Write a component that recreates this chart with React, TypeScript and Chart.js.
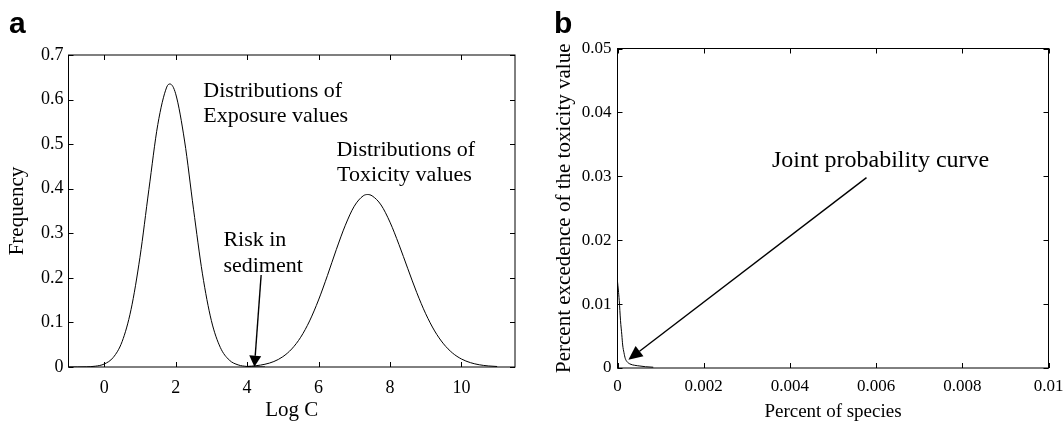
import React, { useEffect, useRef } from "react";
import { Chart, registerables } from "chart.js";

Chart.register(...registerables);

// ---------- Data (panel a) ----------
const exposureLogC = [-1, -0.75, -0.5, -0.25, 0, 0.25, 0.5, 0.75, 1.0, 1.25, 1.5, 1.75, 1.84, 2.0, 2.25, 2.5, 2.75, 3.0, 3.25, 3.5, 3.75, 4.0, 4.25, 4.5];
const exposureFreq = [0, 0.0001, 0.0004, 0.0018, 0.0067, 0.0212, 0.0568, 0.1286, 0.246, 0.398, 0.544, 0.628, 0.635, 0.613, 0.507, 0.354, 0.209, 0.104, 0.0439, 0.0156, 0.0047, 0.0012, 0.0003, 0.0001];

const toxicityLogC = [4.0, 4.25, 4.5, 4.75, 5.0, 5.25, 5.5, 5.75, 6.0, 6.25, 6.5, 6.75, 7.0, 7.25, 7.375, 7.5, 7.75, 8.0, 8.25, 8.5, 8.75, 9.0, 9.25, 9.5, 9.75, 10.0, 10.25, 10.5, 10.75, 11.0];
const toxicityFreq = [0.0013, 0.0029, 0.0062, 0.0123, 0.0231, 0.0405, 0.0667, 0.1034, 0.1504, 0.2055, 0.264, 0.318, 0.3607, 0.384, 0.387, 0.384, 0.3635, 0.325, 0.275, 0.2204, 0.1668, 0.1195, 0.0809, 0.0519, 0.0314, 0.018, 0.0098, 0.005, 0.0024, 0.0011];

const xTicksA = [0, 2, 4, 6, 8, 10];
const yTicksA = [0, 0.1, 0.2, 0.3, 0.4, 0.5, 0.6, 0.7];

// ---------- Data (panel b) ----------
const speciesPct = [0, 0.00002, 0.00004, 0.00007, 0.0001, 0.00012, 0.00015, 0.00018, 0.00022, 0.00029, 0.0004, 0.00052, 0.00065, 0.00083];
const exceedancePct = [0.0135, 0.0122, 0.0106, 0.0074, 0.0052, 0.0036, 0.0024, 0.0015, 0.001, 0.00063, 0.00042, 0.00031, 0.0002, 0.00012];

const xTicksB = [0, 0.002, 0.004, 0.006, 0.008, 0.01];
const yTicksB = [0, 0.01, 0.02, 0.03, 0.04, 0.05];

const SERIF = '"Liberation Serif", "Times New Roman", serif';
const SANS = '"Liberation Sans", Arial, sans-serif';

const decorPlugin = {
  id: "decor",
  afterDraw(chart: any, _args: any, opts: any) {
    const { ctx, chartArea: a, scales } = chart;
    const xs = scales.x;
    const ys = scales.y;
    ctx.save();
    ctx.strokeStyle = "#000";
    ctx.fillStyle = "#000";
    ctx.lineWidth = 1;
    // box
    ctx.strokeRect(a.left, a.top, a.right - a.left, a.bottom - a.top);
    // inward ticks on all four sides
    const L = opts.tickLen;
    ctx.beginPath();
    xs.ticks.forEach((t: any) => {
      const px = Math.round(xs.getPixelForValue(t.value)) + 0.5;
      ctx.moveTo(px, a.bottom);
      ctx.lineTo(px, a.bottom - L);
      ctx.moveTo(px, a.top);
      ctx.lineTo(px, a.top + L);
    });
    ys.ticks.forEach((t: any) => {
      const py = Math.round(ys.getPixelForValue(t.value)) + 0.5;
      ctx.moveTo(a.left, py);
      ctx.lineTo(a.left + L, py);
      ctx.moveTo(a.right, py);
      ctx.lineTo(a.right - L, py);
    });
    ctx.stroke();
    // text annotations
    ctx.textBaseline = "alphabetic";
    ctx.textAlign = "left";
    (opts.labels || []).forEach((l: any) => {
      ctx.font = `${l.size}px ${SERIF}`;
      ctx.fillText(l.text, xs.getPixelForValue(l.x), ys.getPixelForValue(l.y));
    });
    // arrows
    (opts.arrows || []).forEach((ar: any) => {
      const x0 = xs.getPixelForValue(ar.x0);
      const y0 = ys.getPixelForValue(ar.y0);
      const x1 = xs.getPixelForValue(ar.x1);
      const y1 = ys.getPixelForValue(ar.y1);
      const ang = Math.atan2(y1 - y0, x1 - x0);
      const hl = ar.headLen;
      const hw = ar.headHalf;
      const bx = x1 - hl * Math.cos(ang);
      const by = y1 - hl * Math.sin(ang);
      ctx.lineWidth = 1.4;
      ctx.beginPath();
      ctx.moveTo(x0, y0);
      ctx.lineTo(bx, by);
      ctx.stroke();
      ctx.beginPath();
      ctx.moveTo(x1, y1);
      ctx.lineTo(bx + hw * Math.sin(ang), by - hw * Math.cos(ang));
      ctx.lineTo(bx - hw * Math.sin(ang), by + hw * Math.cos(ang));
      ctx.closePath();
      ctx.fill();
    });
    // panel letter
    ctx.font = `bold 30px ${SANS}`;
    ctx.fillText(opts.letter, opts.letterX, opts.letterY);
    ctx.restore();
  },
};

function makeScale(cfg: any) {
  return {
    type: "linear",
    min: cfg.min,
    max: cfg.max,
    afterBuildTicks: (s: any) => {
      s.ticks = cfg.ticks.map((v: number) => ({ value: v }));
    },
    ticks: {
      font: { size: cfg.tickSize, family: SERIF },
      color: "#000",
      padding: cfg.tickPad,
      maxRotation: 0,
      autoSkip: false,
      callback: (v: any) => String(v),
    },
    grid: { display: false, drawTicks: false },
    border: { display: false },
    title: {
      display: true,
      text: cfg.title,
      color: "#000",
      font: { size: cfg.titleSize, family: SERIF, lineHeight: 1.2 },
      padding: cfg.titlePad,
    },
    afterFit: (s: any) => {
      if (cfg.width !== undefined) s.width = cfg.width;
      if (cfg.height !== undefined) s.height = cfg.height;
      s.paddingLeft = 0;
      s.paddingRight = 0;
      s.paddingTop = 0;
      s.paddingBottom = 0;
    },
  };
}

function ChartA() {
  const ref = useRef<HTMLCanvasElement>(null);
  useEffect(() => {
    const chart = new Chart(ref.current as HTMLCanvasElement, {
      type: "scatter",
      data: {
        datasets: [
          {
            label: "Exposure",
            data: exposureLogC.map((x, i) => ({ x, y: exposureFreq[i] })),
            showLine: true,
            borderColor: "#000",
            borderWidth: 1,
            pointRadius: 0,
            cubicInterpolationMode: "monotone",
          },
          {
            label: "Toxicity",
            data: toxicityLogC.map((x, i) => ({ x, y: toxicityFreq[i] })),
            showLine: true,
            borderColor: "#000",
            borderWidth: 1,
            pointRadius: 0,
            cubicInterpolationMode: "monotone",
          },
        ],
      },
      options: {
        animation: false,
        responsive: false,
        layout: { padding: { left: 0, right: 15, top: 55, bottom: 0 } },
        scales: {
          x: makeScale({ min: -1, max: 11.5, ticks: xTicksA, tickSize: 18, tickPad: 10, title: "Log C", titleSize: 21, titlePad: { top: 0, bottom: 0 }, height: 56 }),
          y: makeScale({ min: 0, max: 0.7, ticks: yTicksA, tickSize: 18, tickPad: 5, title: "Frequency", titleSize: 21, titlePad: { top: 5, bottom: 0 }, width: 68.5 }),
        },
        plugins: {
          legend: { display: false },
          tooltip: { enabled: false },
          decor: {
            tickLen: 5,
            letter: "a",
            letterX: 9,
            letterY: 33,
            labels: [
              { text: "Distributions of", x: 2.775, y: 0.605, size: 22 },
              { text: "Exposure values", x: 2.775, y: 0.549, size: 22 },
              { text: "Distributions of", x: 6.5, y: 0.473, size: 22 },
              { text: "Toxicity values", x: 6.52, y: 0.417, size: 22 },
              { text: "Risk in", x: 3.336, y: 0.2715, size: 22 },
              { text: "sediment", x: 3.336, y: 0.2138, size: 22 },
            ],
            arrows: [{ x0: 4.393, y0: 0.2064, x1: 4.205, y1: 0.0007, headLen: 11, headHalf: 6 }],
          },
        } as any,
      },
      plugins: [decorPlugin as any],
    } as any);
    return () => chart.destroy();
  }, []);
  return <canvas ref={ref} width={530} height={423} style={{ position: "absolute", left: 0, top: 0, width: 530, height: 423 }} />;
}

function ChartB() {
  const ref = useRef<HTMLCanvasElement>(null);
  useEffect(() => {
    const chart = new Chart(ref.current as HTMLCanvasElement, {
      type: "scatter",
      data: {
        datasets: [
          {
            label: "Joint probability curve",
            data: speciesPct.map((x, i) => ({ x, y: exceedancePct[i] })),
            showLine: true,
            borderColor: "#000",
            borderWidth: 1,
            pointRadius: 0,
            cubicInterpolationMode: "monotone",
          },
        ],
      },
      options: {
        animation: false,
        responsive: false,
        layout: { padding: { left: 0, right: 14.5, top: 48.5, bottom: 0 } },
        scales: {
          x: makeScale({ min: 0, max: 0.01, ticks: xTicksB, tickSize: 17, tickPad: 8, title: "Percent of species", titleSize: 19, titlePad: { top: 0, bottom: 0 }, height: 55 }),
          y: makeScale({ min: 0, max: 0.05, ticks: yTicksB, tickSize: 17, tickPad: 6, title: "Percent excedence of the toxicity value", titleSize: 21, titlePad: { top: 22, bottom: 0 }, width: 87.5 }),
        },
        plugins: {
          legend: { display: false },
          tooltip: { enabled: false },
          decor: {
            tickLen: 5,
            letter: "b",
            letterX: 24,
            letterY: 33,
            labels: [{ text: "Joint probability curve", x: 0.003582, y: 0.0315, size: 24 }],
            arrows: [{ x0: 0.005777, y0: 0.0298, x1: 0.000253, y1: 0.0013, headLen: 14, headHalf: 6.5 }],
          },
        } as any,
      },
      plugins: [decorPlugin as any],
    } as any);
    return () => chart.destroy();
  }, []);
  return <canvas ref={ref} width={533} height={423} style={{ position: "absolute", left: 530, top: 0, width: 533, height: 423 }} />;
}

export default function App() {
  return (
    <div style={{ position: "absolute", left: 0, top: 0, width: 1063, height: 423, background: "#fff", overflow: "hidden" }}>
      <ChartA />
      <ChartB />
    </div>
  );
}
